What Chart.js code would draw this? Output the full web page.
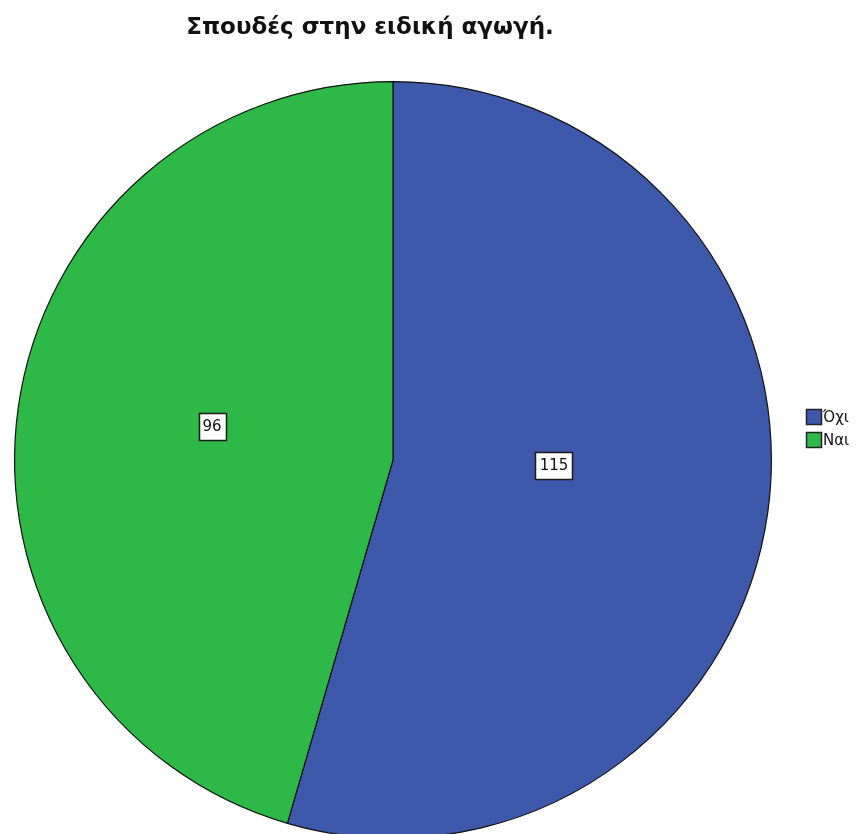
<!DOCTYPE html>
<html>
<head>
<meta charset="utf-8">
<script src="https://cdn.jsdelivr.net/npm/chart.js@4/dist/chart.umd.min.js"></script>
<style>
  html, body { margin: 0; padding: 0; background: #fff; overflow: hidden; }
  #wrap { position: relative; width: 857px; height: 840px; }
</style>
</head>
<body>
<div id="wrap"><canvas id="c" width="857" height="840"></canvas></div>
<script>
// Responses: studies in special education
const chartTitle = 'Σπουδές στην ειδική αγωγή.';
const categories = ['Όχι', 'Ναι'];
const counts = [115, 96];
const sliceColors = ['#3E58AC', '#2EB848'];

// Where each count label sits inside its slice (fraction of radius, angular tweak in degrees)
const labelRadius = [0.425, 0.486];
const labelTurn = [-6.3, 2.5];

const FONT = '"DejaVu Sans", Verdana, sans-serif';

const decorations = {
  id: 'decorations',
  afterDatasetsDraw(chart) {
    const ctx = chart.ctx;
    const meta = chart.getDatasetMeta(0);
    ctx.save();
    // count labels in white boxes
    ctx.font = '15px ' + FONT;
    ctx.textAlign = 'center';
    ctx.textBaseline = 'middle';
    meta.data.forEach((arc, i) => {
      const p = arc.getProps(['x', 'y', 'startAngle', 'endAngle', 'outerRadius'], true);
      const mid = (p.startAngle + p.endAngle) / 2 + labelTurn[i] * Math.PI / 180;
      const r = p.outerRadius * labelRadius[i];
      const x = p.x + Math.cos(mid) * r;
      const y = p.y + Math.sin(mid) * r;
      const txt = String(chart.data.datasets[0].data[i]);
      const w = Math.round(ctx.measureText(txt).width + 8);
      const h = 27;
      const bx = Math.round(x - w / 2) + 0.5, by = Math.round(y - h / 2) + 0.5;
      ctx.fillStyle = '#fff';
      ctx.fillRect(bx, by, w, h);
      ctx.strokeStyle = '#1a1a1a';
      ctx.lineWidth = 1.5;
      ctx.strokeRect(bx, by, w, h);
      ctx.fillStyle = '#111';
      ctx.fillText(txt, Math.round(x), Math.round(y) + 1);
    });

    // title
    ctx.font = 'bold 23px ' + FONT;
    ctx.fillStyle = '#111';
    ctx.textAlign = 'center';
    ctx.textBaseline = 'alphabetic';
    ctx.fillText(chart.options.plugins.decorations.title, 370, 34);

    // legend on the right
    ctx.font = '15px ' + FONT;
    ctx.textAlign = 'left';
    ctx.textBaseline = 'middle';
    chart.data.labels.forEach((lab, i) => {
      const y = 409 + i * 23;
      ctx.fillStyle = chart.data.datasets[0].backgroundColor[i];
      ctx.fillRect(806.5, y + 0.5, 15, 15);
      ctx.strokeStyle = '#222';
      ctx.lineWidth = 1.5;
      ctx.strokeRect(806.5, y + 0.5, 15, 15);
      ctx.fillStyle = '#111';
      ctx.fillText(lab, 823, y + 9);
    });
    ctx.restore();
  }
};

new Chart(document.getElementById('c'), {
  type: 'pie',
  data: {
    labels: categories,
    datasets: [{
      data: counts,
      backgroundColor: sliceColors,
      borderColor: '#111',
      borderWidth: 1.2
    }]
  },
  options: {
    responsive: false,
    animation: false,
    layout: { padding: { left: 14, right: 85, top: 81, bottom: 1 } },
    plugins: {
      legend: { display: false },
      title: { display: false },
      tooltip: { enabled: false },
      decorations: { title: chartTitle }
    }
  },
  plugins: [decorations]
});
</script>
</body>
</html>
